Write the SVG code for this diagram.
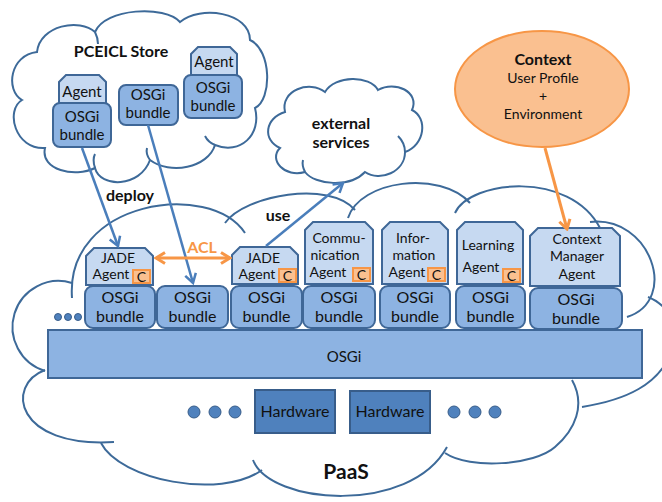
<svg xmlns="http://www.w3.org/2000/svg" width="662" height="502" viewBox="0 0 662 502">
<style>
text{font-family:Lato,"Liberation Sans",sans-serif;fill:#111;text-anchor:middle}
.b{font-weight:bold}
.cloud{fill:none;stroke:#3D6A99;stroke-width:2}
.tab{fill:#C6D9F1;stroke:#3F6797;stroke-width:2}
.bun{fill:#8DB3E2;stroke:#3F6797;stroke-width:2}
.cbox{fill:#FAC090;stroke:#F79646;stroke-width:2}
.hw{fill:#4F81BD;stroke:#385D8A;stroke-width:2}
.dot{fill:#4F81BD;stroke:#385D8A;stroke-width:1}
.blue{stroke:#4A7EBB;stroke-width:2.5;fill:none}
.orange{stroke:#F79646;stroke-width:3;fill:none}
.t14{font-size:14px}
.t15{font-size:15px}
.t16{font-size:16px}
</style>
<defs>
<marker id="ab" viewBox="0 0 14 14" refX="12" refY="7" markerWidth="14" markerHeight="14" markerUnits="userSpaceOnUse" orient="auto-start-reverse">
<path d="M3,1.5 L12,7 L3,12.5" fill="none" stroke="#4A7EBB" stroke-width="2.5"/>
</marker>
<marker id="ao" viewBox="0 0 14 14" refX="12" refY="7" markerWidth="14" markerHeight="14" markerUnits="userSpaceOnUse" orient="auto-start-reverse">
<path d="M3,1.5 L12,7 L3,12.5" fill="none" stroke="#F79646" stroke-width="3"/>
</marker>
</defs>

<g id="paas-cloud">
<g class="cloud">
<path d="M45,370 C 5,385 15,448 114,442"/>
<path d="M72,283 A46,46 0 0 0 45,371"/>
<path d="M101,443 C 120,480 220,500 262,470"/>
<path d="M253,460 C 270,505 410,515 447,447"/>
<path d="M445,453 C 470,470 535,465 555,447 C 575,430 586,405 572,380"/>
<path d="M582,407 C 625,400 660,385 672,350 C 680,325 668,305 648,297"/>
<path d="M590,222 C 650,215 680,300 627,317"/>
<path d="M455,213 C 470,180 570,170 600,228"/>
<path d="M348,218 C 360,180 440,170 470,203"/>
<path d="M225,223 C 245,195 330,180 355,210"/>
<path d="M72,298 C 65,200 210,180 245,233"/>
</g>
<text class="b" x="346" y="479" style="font-size:21px">PaaS</text>
</g>

<g id="store-cloud">
<path class="cloud" d="M37,52 C 40,25 80,18 95,32 C 105,8 165,5 180,22 C 200,5 250,12 250,40 C 272,50 272,100 255,108 C 262,135 240,155 215,145 C 208,168 170,175 150,160 C 140,188 100,188 95,168 C 75,178 40,170 45,148 C 15,150 5,110 22,100 C 5,90 10,55 37,52 Z"/>
<path class="cloud" d="M95,168 C 93,162 93,158 95,154 M215,145 C 210,143 207,140 205,136 M95,32 C 97,36 98,40 98,44 M150,160 C 147,156 146,152 147,148"/>
<text class="b t16" x="121" y="57">PCEICL Store</text>
</g>

<g id="external-services">
<path class="cloud" d="M285,112 C 280,90 310,80 325,92 C 335,75 370,75 378,90 C 395,80 420,92 412,110 C 428,118 425,145 405,152 C 405,172 380,182 365,172 C 350,188 315,185 305,172 C 285,178 268,160 280,148 C 262,140 265,118 285,112 Z"/>
<path class="cloud" d="M405,152 C 405,145 402,140 398,136 M305,172 C 303,168 302,164 303,160"/>
<text class="b t16" x="341" y="129">external</text>
<text class="b t16" x="341" y="148">services</text>
</g>

<g id="context">
<ellipse cx="542" cy="89" rx="87" ry="58" fill="#FAC090" stroke="#F79646" stroke-width="2"/>
<text class="b t16" x="543" y="65">Context</text>
<text class="t14" x="543" y="83">User Profile</text>
<text class="t14" x="543" y="101">+</text>
<text class="t14" x="543" y="119">Environment</text>
</g>

<g id="store-agent-1">
<path class="tab" d="M59,82 L66,75 L99,75 L106,82 L106,105 L59,105 Z"/>
<rect class="bun" x="53" y="103" width="58" height="44" rx="7"/>
<text class="t15" x="82" y="97">Agent</text>
<text class="t15" x="82" y="122">OSGi</text>
<text class="t15" x="82" y="140">bundle</text>
</g>
<g id="store-bundle-2">
<rect class="bun" x="119" y="85" width="59" height="40" rx="7"/>
<text class="t15" x="148" y="100">OSGi</text>
<text class="t15" x="148" y="118">bundle</text>
</g>
<g id="store-agent-3">
<path class="tab" d="M191,54 L198,47 L230,47 L237,54 L237,77 L191,77 Z"/>
<rect class="bun" x="184" y="75" width="58" height="43" rx="7"/>
<text class="t15" x="214" y="67">Agent</text>
<text class="t15" x="213" y="93">OSGi</text>
<text class="t15" x="213" y="111">bundle</text>
</g>

<g id="osgi-layer">
<rect x="48" y="330" width="594" height="48" fill="#8DB3E2" stroke="#3F6797" stroke-width="2"/>
<text class="t15" x="344" y="362">OSGi</text>
</g>

<g id="dots-left-small">
<circle class="dot" cx="58" cy="317" r="3.5"/>
<circle class="dot" cx="68" cy="317" r="3.5"/>
<circle class="dot" cx="78" cy="317" r="3.5"/>
</g>

<g id="jade-agent-1">
<path class="tab" d="M86,256 L94,248 L145,248 L153,256 L153,285 L86,285 Z"/>
<rect class="bun" x="85" y="286" width="70" height="42" rx="8"/>
<text class="t14" x="118" y="263">JADE</text>
<text class="t14" x="111" y="279">Agent</text>
<rect class="cbox" x="133" y="270" width="17" height="13"/>
<text class="t14" x="141.5" y="281.5">C</text>
<text class="t16" x="120" y="303">OSGi</text>
<text class="t16" x="120" y="322">bundle</text>
</g>

<g id="bundle-2">
<rect class="bun" x="157" y="286" width="71" height="42" rx="8"/>
<text class="t16" x="192.5" y="303">OSGi</text>
<text class="t16" x="192.5" y="322">bundle</text>
</g>

<g id="jade-agent-2">
<path class="tab" d="M232,255 L240,247 L290,247 L298,255 L298,284 L232,284 Z"/>
<rect class="bun" x="231" y="286" width="71" height="42" rx="8"/>
<text class="t14" x="263" y="263">JADE</text>
<text class="t14" x="257" y="279">Agent</text>
<rect class="cbox" x="279" y="269" width="17" height="13"/>
<text class="t14" x="287.5" y="280.5">C</text>
<text class="t16" x="266.5" y="303">OSGi</text>
<text class="t16" x="266.5" y="322">bundle</text>
</g>

<g id="communication-agent">
<path class="tab" d="M305,230 L313,222 L365,222 L373,230 L373,284 L305,284 Z"/>
<rect class="bun" x="303" y="286" width="72" height="42" rx="8"/>
<text class="t14" x="339" y="243">Commu-</text>
<text class="t14" x="335" y="260">nication</text>
<text class="t14" x="328" y="277">Agent</text>
<rect class="cbox" x="353" y="268" width="17" height="13"/>
<text class="t14" x="361.5" y="279.5">C</text>
<text class="t16" x="339" y="303">OSGi</text>
<text class="t16" x="339" y="322">bundle</text>
</g>

<g id="information-agent">
<path class="tab" d="M382,230 L390,222 L440,222 L448,230 L448,284 L382,284 Z"/>
<rect class="bun" x="380" y="286" width="70" height="42" rx="8"/>
<text class="t14" x="413" y="243">Infor-</text>
<text class="t14" x="414" y="260">mation</text>
<text class="t14" x="407" y="277">Agent</text>
<rect class="cbox" x="428" y="268" width="17" height="13"/>
<text class="t14" x="436.5" y="279.5">C</text>
<text class="t16" x="415" y="303">OSGi</text>
<text class="t16" x="415" y="322">bundle</text>
</g>

<g id="learning-agent">
<path class="tab" d="M457,230 L465,222 L515,222 L523,230 L523,284 L457,284 Z"/>
<rect class="bun" x="456" y="286" width="69" height="42" rx="8"/>
<text class="t14" x="488" y="250">Learning</text>
<text class="t14" x="481" y="272">Agent</text>
<rect class="cbox" x="503" y="269" width="17" height="13"/>
<text class="t14" x="511.5" y="280.5">C</text>
<text class="t16" x="490.5" y="303">OSGi</text>
<text class="t16" x="490.5" y="322">bundle</text>
</g>

<g id="context-manager-agent">
<path class="tab" d="M530,236 L538,228 L612,228 L620,236 L620,286 L530,286 Z"/>
<rect class="bun" x="530" y="288" width="92" height="41" rx="8"/>
<text class="t14" x="577" y="244">Context</text>
<text class="t14" x="577" y="261">Manager</text>
<text class="t14" x="577" y="279">Agent</text>
<text class="t16" x="576" y="305">OSGi</text>
<text class="t16" x="576" y="324">bundle</text>
</g>

<g id="hardware-1">
<rect class="hw" x="255" y="390" width="80" height="43"/>
<text class="t16" x="295" y="417">Hardware</text>
</g>
<g id="hardware-2">
<rect class="hw" x="350" y="391" width="80" height="42"/>
<text class="t16" x="390" y="417">Hardware</text>
</g>
<g id="dots-hw-left">
<circle class="dot" cx="194" cy="412" r="6"/>
<circle class="dot" cx="215" cy="412" r="6"/>
<circle class="dot" cx="235" cy="412" r="6"/>
</g>
<g id="dots-hw-right">
<circle class="dot" cx="454" cy="412" r="6"/>
<circle class="dot" cx="475" cy="412" r="6"/>
<circle class="dot" cx="495" cy="412" r="6"/>
</g>

<g id="connectors">
<line class="blue" x1="82" y1="148" x2="118" y2="246" marker-end="url(#ab)"/>
<line class="blue" x1="148" y1="125" x2="193" y2="283" marker-end="url(#ab)"/>
<line class="blue" x1="266" y1="246" x2="343" y2="183" marker-end="url(#ab)"/>
<line class="orange" x1="156" y1="258" x2="230" y2="258" marker-start="url(#ao)" marker-end="url(#ao)"/>
<line class="orange" x1="545" y1="148" x2="567" y2="229" marker-end="url(#ao)"/>
<text class="b t16" x="130" y="201">deploy</text>
<text class="b t16" x="278" y="221">use</text>
<text class="b t16" x="202" y="253" style="fill:#F79646">ACL</text>
</g>
</svg>
